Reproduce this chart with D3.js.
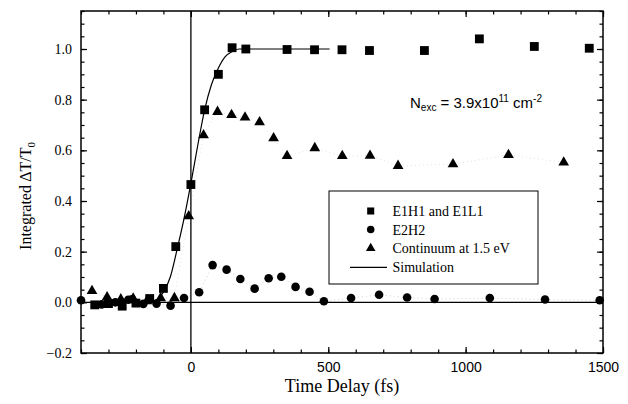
<!DOCTYPE html>
<html><head><meta charset="utf-8">
<script src="https://cdn.jsdelivr.net/npm/d3@7"></script>
<style>body{margin:0;background:#fff}svg{display:block}
.serif{font-family:'Liberation Serif','Times New Roman',serif}
.sans{font-family:'Liberation Sans',Arial,sans-serif}
</style>
</head><body>
<svg id="c" width="628" height="404"></svg>
<script>
// ---- data (time delay fs, integrated dT/T0) ----
const e1h1Time = [-350,-300,-250,-200,-150,-100,-55,0,50,100,150,200,350,450,550,650,850,1050,1250,1450];
const e1h1Val  = [-0.01,-0.005,-0.015,-0.003,0.015,0.055,0.22,0.465,0.76,0.90,1.005,1.0,0.998,0.997,0.997,0.994,0.994,1.04,1.01,1.003];
const e2h2Time = [-400,-325,-275,-228,-215,-173,-125,-74,-25,30,79,130,180,232,283,329,381,432,484,583,685,787,887,1088,1289,1488];
const e2h2Val  = [0.008,-0.008,0.0,0.01,0.012,-0.006,-0.005,-0.013,0.017,0.04,0.147,0.129,0.092,0.054,0.095,0.101,0.061,0.042,0.004,0.017,0.03,0.019,0.013,0.017,0.011,0.008];
const contTime = [-360,-305,-255,-210,-160,-110,-60,-8,46,97,148,197,250,301,350,451,551,652,754,954,1156,1357];
const contVal  = [0.045,0.02,0.012,0.015,0.005,0.017,0.017,0.34,0.66,0.752,0.74,0.73,0.711,0.648,0.578,0.609,0.578,0.579,0.539,0.545,0.582,0.552];
const simTime  = [-150,-125,-100,-75,-50,-25,0,25,50,75,100,125,150,175,200,300,400,505];
const simVal   = [0.0,0.01,0.04,0.1,0.21,0.33,0.47,0.62,0.76,0.86,0.925,0.97,0.99,1.0,1.0,1.0,1.0,1.0];
const xMajorTicks = [0,500,1000,1500];
const xMinorTicks = d3.range(-400,1501,100);
const yMajorTicks = [-0.2,0.0,0.2,0.4,0.6,0.8,1.0];
const yMinorTicks = d3.range(-0.2,1.151,0.05);
const legendLabels = ["E1H1 and E1L1","E2H2","Continuum at 1.5 eV","Simulation"];

const svg = d3.select("#c");
const L=81,R=603,T=11,B=353;
const x = d3.scaleLinear().domain([-400,1500]).range([L,R]);
const y = d3.scaleLinear().domain([-0.2,1.15]).range([B,T]);

const zip=(a,b)=>a.map((t,i)=>({t,v:b[i]}));
const sq=zip(e1h1Time,e1h1Val), ci=zip(e2h2Time,e2h2Val), tr=zip(contTime,contVal), sim=zip(simTime,simVal);

// faint dotted connectors
const ln=d3.line().x(d=>x(d.t)).y(d=>y(d.v));
svg.append("path").attr("d",ln(ci)).attr("fill","none").attr("stroke","#c4c4c4").attr("stroke-width",0.8).attr("stroke-dasharray","1,3");
svg.append("path").attr("d",ln(tr)).attr("fill","none").attr("stroke","#dadada").attr("stroke-width",0.8).attr("stroke-dasharray","1,3");

// zero lines
svg.append("line").attr("x1",x(0)).attr("x2",x(0)).attr("y1",T).attr("y2",B).attr("stroke","#000").attr("stroke-width",1.3);
svg.append("line").attr("x1",L).attr("x2",R).attr("y1",y(0)).attr("y2",y(0)).attr("stroke","#000").attr("stroke-width",1.3);

// axes
function styleAxis(g){g.attr("font-family",null);g.select(".domain").remove();g.selectAll("line").attr("stroke","#000").attr("stroke-width",1.2);}
svg.append("g").attr("transform",`translate(0,${B})`).call(d3.axisBottom(x).tickValues(xMinorTicks).tickSize(-3.5).tickFormat("")).call(styleAxis);
svg.append("g").attr("transform",`translate(0,${B})`).attr("class","sans").call(d3.axisBottom(x).tickValues(xMajorTicks).tickSize(-6).tickPadding(9).tickFormat(d3.format("d"))).call(styleAxis)
  .selectAll("text").attr("class","sans").attr("font-size",14).attr("fill","#000");
svg.append("g").attr("transform",`translate(0,${T})`).call(d3.axisTop(x).tickValues(xMinorTicks).tickSize(-3.5).tickFormat("")).call(styleAxis);
svg.append("g").attr("transform",`translate(0,${T})`).call(d3.axisTop(x).tickValues(xMajorTicks).tickSize(-6).tickFormat("")).call(styleAxis);
svg.append("g").attr("transform",`translate(${L},0)`).call(d3.axisLeft(y).tickValues(yMinorTicks).tickSize(-3.5).tickFormat("")).call(styleAxis);
svg.append("g").attr("transform",`translate(${L},0)`).attr("class","serif").call(d3.axisLeft(y).tickValues(yMajorTicks).tickSize(-6).tickPadding(9).tickFormat(d3.format(".1f"))).call(styleAxis)
  .selectAll("text").attr("class","serif").attr("font-size",14).attr("fill","#000");
svg.append("g").attr("transform",`translate(${R},0)`).call(d3.axisRight(y).tickValues(yMinorTicks).tickSize(-3.5).tickFormat("")).call(styleAxis);
svg.append("g").attr("transform",`translate(${R},0)`).call(d3.axisRight(y).tickValues(yMajorTicks).tickSize(-6).tickFormat("")).call(styleAxis);
svg.append("rect").attr("x",L).attr("y",T).attr("width",R-L).attr("height",B-T).attr("fill","none").attr("stroke","#000").attr("stroke-width",1.5);

// simulation curve
svg.append("path").attr("d",d3.line().x(d=>x(d.t)).y(d=>y(d.v)).curve(d3.curveMonotoneX)(sim))
  .attr("fill","none").attr("stroke","#000").attr("stroke-width",1.2);

// markers
const sqSym=d3.symbol().type(d3.symbolSquare).size(78);
const ciSym=d3.symbol().type(d3.symbolCircle).size(58);
const trSym=d3.symbol().type(d3.symbolTriangle).size(50);
svg.append("g").selectAll("path").data(tr).join("path").attr("d",trSym).attr("transform",d=>`translate(${x(d.t)},${y(d.v)})`).attr("fill","#000");
svg.append("g").selectAll("path").data(ci).join("path").attr("d",ciSym).attr("transform",d=>`translate(${x(d.t)},${y(d.v)})`).attr("fill","#000");
svg.append("g").selectAll("path").data(sq).join("path").attr("d",sqSym).attr("transform",d=>`translate(${x(d.t)},${y(d.v)})`).attr("fill","#000");

// legend
const lg=svg.append("g");
lg.append("rect").attr("x",329).attr("y",191).attr("width",209).attr("height",93).attr("fill","#fff").attr("stroke","#000").attr("stroke-width",1);
const rows=[211,229.5,248.3,267.3];
const syms=[d3.symbol().type(d3.symbolSquare).size(50),d3.symbol().type(d3.symbolCircle).size(45),d3.symbol().type(d3.symbolTriangle).size(40)];
syms.forEach((s,i)=>lg.append("path").attr("d",s).attr("transform",`translate(370.7,${rows[i]})`).attr("fill","#000"));
lg.append("line").attr("x1",350).attr("x2",387).attr("y1",rows[3]).attr("y2",rows[3]).attr("stroke","#000").attr("stroke-width",1.2);
legendLabels.forEach((t,i)=>lg.append("text").attr("class","serif").attr("x",392.5).attr("y",rows[i]+5).text(t)
  .attr("font-size",14).attr("fill","#000"));

// annotation
const an=svg.append("text").attr("class","sans").attr("x",410).attr("y",108.3).attr("font-size",15).attr("fill","#000");
an.append("tspan").text("N");
an.append("tspan").attr("font-size",10).attr("dy",3).text("exc");
an.append("tspan").attr("dy",-3).text(" = 3.9x10");
an.append("tspan").attr("font-size",10).attr("dy",-6).text("11");
an.append("tspan").attr("dy",6).text(" cm");
an.append("tspan").attr("font-size",10).attr("dy",-6).text("-2");

// axis titles
svg.append("text").attr("class","serif").attr("x",(L+R)/2).attr("y",392).attr("text-anchor","middle").attr("font-size",18).attr("fill","#000").text("Time Delay (fs)");
const yt=svg.append("text").attr("class","serif").attr("transform","translate(31,196) rotate(-90)").attr("text-anchor","middle").attr("font-size",16).attr("fill","#000");
yt.append("tspan").text("Integrated\u2009\u0394T/T");
yt.append("tspan").attr("font-size",11).attr("dy",4).text("0");
</script>
</body></html>
